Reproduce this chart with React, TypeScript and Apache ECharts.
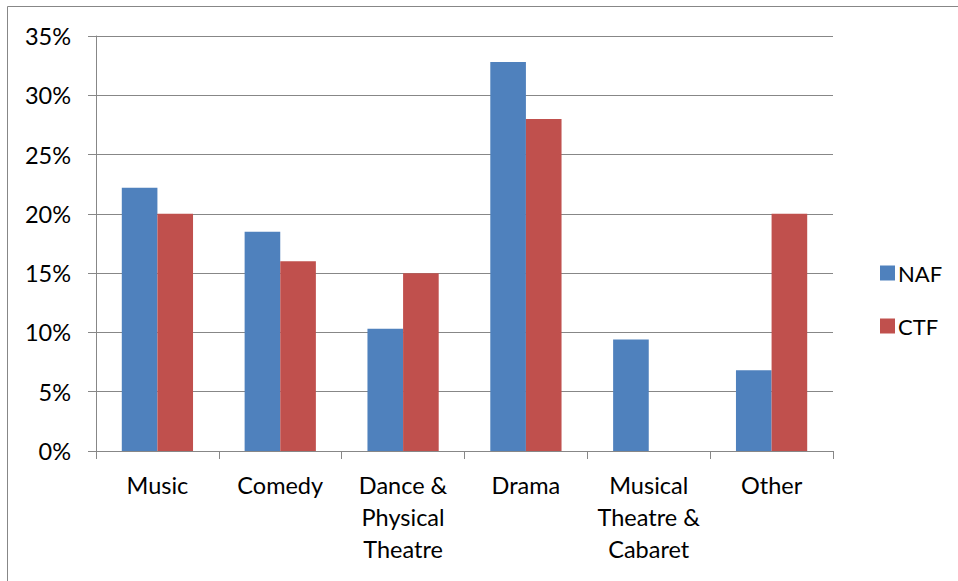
import React, { useEffect, useRef } from "react";
import * as echarts from "echarts";

const categories = [
  "Music",
  "Comedy",
  "Dance &\nPhysical\nTheatre",
  "Drama",
  "Musical\nTheatre &\nCabaret",
  "Other",
];
const nafValues = [22.2, 18.5, 10.3, 32.8, 9.4, 6.8];
const ctfValues = [20.0, 16.0, 15.0, 28.0, 0, 20.0];
const seriesNames = ["NAF", "CTF"];
const yMin = 0;
const yMax = 35;
const yInterval = 5;

export default function App() {
  const ref = useRef<HTMLDivElement>(null);
  useEffect(() => {
    if (!ref.current) return;
    const chart = echarts.init(ref.current, null, { renderer: "svg" });
    const font = "Lato";
    const axisGrey = "#878787";
    const fs = 23.5;
    chart.setOption({
      animation: false,
      backgroundColor: "#ffffff",
      textStyle: { fontFamily: font },
      graphic: [
        {
          type: "rect",
          shape: { x: 7.5, y: 6.5, width: 1200, height: 1000 },
          style: { fill: "none", stroke: axisGrey, lineWidth: 1 },
          silent: true,
          z: 0,
        },
      ],
      grid: { left: 96, top: 36, right: 125, bottom: 130, containLabel: false },
      legend: {
        orient: "vertical",
        left: 875,
        top: 257,
        itemWidth: 15,
        itemHeight: 15,
        itemGap: 31,
        icon: "rect",
        textStyle: { fontFamily: font, fontSize: 22, color: "#000", padding: [0, 0, 0, -2] },
        data: seriesNames,
      },
      xAxis: {
        type: "category",
        data: categories,
        axisLine: { lineStyle: { color: axisGrey, width: 1 } },
        axisTick: { show: true, length: 8, alignWithLabel: false, lineStyle: { color: axisGrey } },
        axisLabel: {
          interval: 0,
          margin: 18,
          fontFamily: font,
          fontSize: fs,
          color: "#000",
          lineHeight: 32,
        },
      },
      yAxis: {
        type: "value",
        min: yMin,
        max: yMax,
        interval: yInterval,
        axisLine: { show: true, lineStyle: { color: axisGrey, width: 1 } },
        axisTick: { show: true, length: 8, lineStyle: { color: axisGrey } },
        splitLine: { show: true, lineStyle: { color: axisGrey, width: 1 } },
        axisLabel: {
          margin: 25,
          fontFamily: font,
          fontSize: fs,
          color: "#000",
          formatter: (v: number) => `${v}%`,
        },
      },
      series: [
        {
          name: seriesNames[0],
          type: "bar",
          data: nafValues,
          barGap: "0%",
          barCategoryGap: "42%",
          itemStyle: { color: "#4F81BD" },
        },
        {
          name: seriesNames[1],
          type: "bar",
          data: ctfValues,
          barGap: "0%",
          barCategoryGap: "42%",
          itemStyle: { color: "#C0504D" },
        },
      ],
    });
    return () => chart.dispose();
  }, []);
  return (
    <div
      ref={ref}
      style={{ position: "absolute", left: 0, top: 0, width: 958, height: 581 }}
    />
  );
}
